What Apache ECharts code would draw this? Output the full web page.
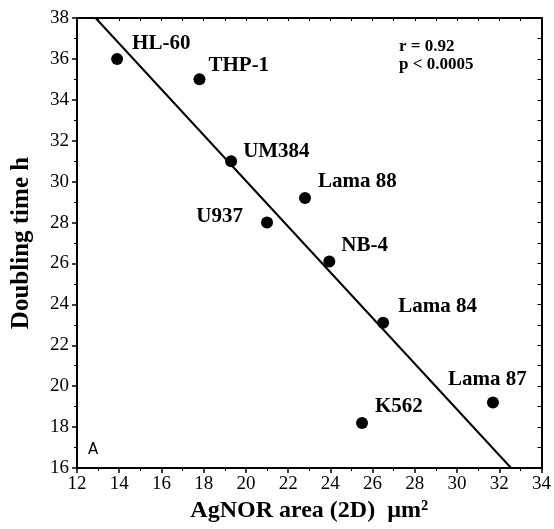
<!DOCTYPE html>
<html>
<head>
<meta charset="utf-8">
<script src="https://cdn.jsdelivr.net/npm/echarts@6/dist/echarts.min.js"></script>
<style>
  html, body { margin: 0; padding: 0; background: #fff; }
  #chart { width: 554px; height: 529px; }
</style>
</head>
<body>
<div id="chart"></div>
<script>
// Cell lines: AgNOR area vs doubling time
const cellLines = ['HL-60', 'THP-1', 'UM384', 'U937', 'Lama 88', 'NB-4', 'Lama 84', 'K562', 'Lama 87'];
const agnorArea = [13.9, 17.8, 19.3, 21.0, 22.8, 23.95, 26.5, 25.5, 31.7];
const doublingTime = [36, 35, 31, 28, 29.2, 26.1, 23.1, 18.2, 19.2];

// Fitted regression line, end points where it meets the frame
const fitX = [12.88, 32.56];
const fitY = [38, 16];

const xTicks = [12, 14, 16, 18, 20, 22, 24, 26, 28, 30, 32, 34];
const yTicks = [16, 18, 20, 22, 24, 26, 28, 30, 32, 34, 36, 38];

// Label placement per cell line: [anchor side, dx, dy]
const labelPlacement = {
  'HL-60':   ['right', 4, -15],
  'THP-1':   ['right', -2, -14],
  'UM384':   ['right', 1, -10],
  'U937':    ['left', -13, -6],
  'Lama 88': ['right', 2, -16],
  'NB-4':    ['right', 1, -16],
  'Lama 84': ['right', 4, -16],
  'K562':    ['right', 2, -16],
  'Lama 87': ['right', -56, -23]
};

const serif = '"Liberation Serif", "Times New Roman", serif';

const points = cellLines.map((name, i) => {
  const p = labelPlacement[name];
  return {
    name: name,
    value: [agnorArea[i], doublingTime[i]],
    label: { position: p[0], offset: [p[1], p[2]] }
  };
});

const chart = echarts.init(document.getElementById('chart'), null, { renderer: 'canvas' });

const axisLine = { show: true, onZero: false, lineStyle: { color: '#000', width: 2 } };

chart.setOption({
  animation: false,
  backgroundColor: '#fff',
  grid: { left: 77, right: 11, top: 18, bottom: 61, containLabel: false },
  xAxis: [
    {
      type: 'value', position: 'bottom',
      min: xTicks[0], max: xTicks[xTicks.length - 1], interval: 2,
      axisLine: axisLine,
      axisTick: { show: true, length: 5, lineStyle: { color: '#000', width: 1.5 } },
      minorTick: { show: true, splitNumber: 2, length: 3, lineStyle: { color: '#000', width: 1 } },
      splitLine: { show: false },
      axisLabel: { color: '#000', fontFamily: serif, fontSize: 19, margin: 7 },
      name: 'AgNOR area (2D)  µm²',
      nameLocation: 'middle', nameGap: 29,
      nameTextStyle: { color: '#000', fontFamily: serif, fontSize: 24, fontWeight: 'bold' }
    },
    {
      type: 'value', position: 'top',
      min: xTicks[0], max: xTicks[xTicks.length - 1], interval: 1,
      axisLine: axisLine,
      axisTick: { show: true, inside: true, length: 3, lineStyle: { color: '#000', width: 1 } },
      splitLine: { show: false },
      axisLabel: { show: false }
    }
  ],
  yAxis: [
    {
      type: 'value', position: 'left',
      min: yTicks[0], max: yTicks[yTicks.length - 1], interval: 2,
      axisLine: axisLine,
      axisTick: { show: true, length: 5, lineStyle: { color: '#000', width: 1.5 } },
      minorTick: { show: true, splitNumber: 2, length: 3, lineStyle: { color: '#000', width: 1 } },
      splitLine: { show: false },
      axisLabel: { color: '#000', fontFamily: serif, fontSize: 19, margin: 8 },
      name: 'Doubling time h',
      nameLocation: 'middle', nameGap: 43,
      nameTextStyle: { color: '#000', fontFamily: serif, fontSize: 25, fontWeight: 'bold' }
    },
    {
      type: 'value', position: 'right',
      min: yTicks[0], max: yTicks[yTicks.length - 1], interval: 1,
      axisLine: axisLine,
      axisTick: { show: true, inside: true, length: 4, lineStyle: { color: '#000', width: 1 } },
      splitLine: { show: false },
      axisLabel: { show: false }
    }
  ],
  series: [
    {
      type: 'line',
      xAxisIndex: 0, yAxisIndex: 0,
      data: fitX.map((x, i) => [x, fitY[i]]),
      symbol: 'none',
      lineStyle: { color: '#000', width: 2 },
      silent: true,
      z: 2
    },
    {
      type: 'scatter',
      xAxisIndex: 0, yAxisIndex: 0,
      data: points,
      symbol: 'circle',
      symbolSize: 12,
      itemStyle: { color: '#000', opacity: 1 },
      label: {
        show: true,
        formatter: '{b}',
        color: '#000',
        opacity: 1,
        fontFamily: serif,
        fontSize: 21,
        fontWeight: 'bold',
        distance: 5
      },
      z: 3
    }
  ],
  graphic: [
    {
      type: 'text', left: 399, top: 38,
      style: { text: 'r = 0.92', fill: '#000', font: 'bold 17px ' + serif }
    },
    {
      type: 'text', left: 399, top: 56,
      style: { text: 'p < 0.0005', fill: '#000', font: 'bold 17px ' + serif }
    },
    {
      type: 'text', left: 88, top: 443,
      style: { text: 'A', fill: '#000', font: '15px "DejaVu Sans", sans-serif' }
    }
  ]
});
</script>
</body>
</html>
